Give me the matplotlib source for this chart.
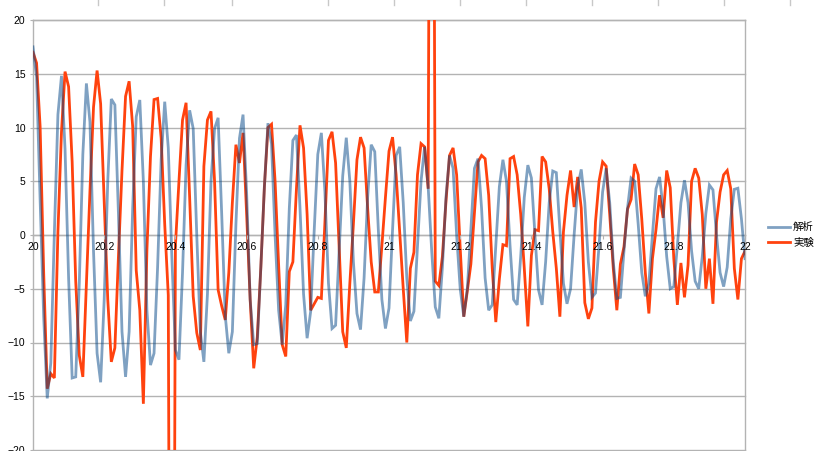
import numpy as np
import matplotlib
matplotlib.use("Agg")
import matplotlib.pyplot as plt
from matplotlib.lines import Line2D
from matplotlib.ticker import FuncFormatter

plt.rcParams['font.family'] = ['Liberation Sans', 'Noto Sans CJK JP', 'DejaVu Sans']

series_names = ["解析", "実験"]

analysis = [
    17.5, 14.7, 3.3, -7.6, -15.2, -11.9, 0.2, 11.2, 14.8, 8.0,
    -4.0, -13.3, -13.2, -4.5, 7.5, 14.1, 10.5, -1.5, -11.0, -13.7,
    -6.0, 5.0, 12.65, 12.1, 2.0, -9.0, -13.2, -9.0, 2.5, 11.0,
    12.56, 5.0, -7.0, -12.1, -11.0, -3.0, 7.0, 12.4, 8.1, -2.0,
    -10.7, -11.6, -3.5, 6.5, 11.6, 9.9, 0.0, -9.0, -11.8, -5.5,
    5.0, 9.9, 10.9, 2.0, -7.5, -11.0, -9.0, 1.0, 9.0, 11.2,
    4.0, -6.0, -10.2, -10.1, -3.0, 4.5, 10.4, 8.5, 0.0, -7.0,
    -10.2, -6.5, 2.5, 8.8, 9.3, 2.5, -5.5, -9.6, -7.1, 0.5,
    7.5, 9.5, 4.0, -4.5, -8.7, -8.4, -1.5, 5.5, 9.05, 5.0,
    -2.5, -7.3, -8.8, -4.0, 3.5, 8.4, 7.75, 0.5, -6.0, -8.7,
    -6.8, 0.5, 7.4, 8.2, 3.0, -4.0, -8.0, -7.1, -1.0, 5.0,
    8.2, 4.5, -1.5, -6.7, -7.75, -3.0, 3.5, 7.4, 6.2, 0.0,
    -5.0, -7.6, -5.0, 0.5, 6.2, 7.1, 2.5, -4.0, -7.0, -6.5,
    -1.0, 4.5, 7.0, 5.0, -1.0, -6.0, -6.5, -2.0, 3.5, 6.5,
    5.3, 0.0, -5.1, -6.5, -2.5, 3.0, 5.95, 5.8, 0.5, -4.5,
    -6.4, -5.0, 0.0, 4.5, 6.1, 3.0, -2.5, -5.8, -5.4, -1.0,
    4.0, 6.2, 3.0, -2.5, -5.9, -5.8, -1.5, 2.5, 5.3, 5.0,
    1.0, -3.5, -5.7, -4.5, 0.0, 4.3, 5.4, 2.5, -2.0, -5.0,
    -4.8, -1.0, 3.0, 5.1, 3.0, -1.5, -4.3, -5.0, -2.0, 2.0,
    4.65, 4.2, 0.0, -3.5, -4.8, -3.0, 1.5, 4.25, 4.35, 1.5,
    -2.2,
]

experiment = [
    17.0, 16.0, 10.1, -3.5, -14.3, -12.9, -13.3, 0.3, 9.6, 15.2,
    13.8, 6.8, -4.3, -11.2, -13.2, -4.6, 4.1, 11.9, 15.3, 12.2,
    3.0, -6.0, -11.8, -10.5, -2.0, 6.0, 12.9, 14.3, 10.1, -3.3,
    -7.0, -15.7, -1.4, 7.3, 12.6, 12.7, 9.0, 1.0, -5.6, -100.0,
    -1.0, 5.0, 10.7, 12.3, 3.5, -5.7, -9.1, -10.7, 6.4, 10.7,
    11.5, 5.0, -5.1, -6.6, -7.9, -3.5, 3.0, 8.4, 6.7, 9.5,
    2.0, -6.0, -12.4, -9.5, -3.0, 4.5, 10.0, 10.3, 5.0, -2.8,
    -10.2, -11.3, -3.4, -2.5, 4.3, 10.2, 8.1, 1.9, -7.0, -6.4,
    -5.8, -5.9, 1.2, 8.8, 9.6, 6.7, -1.2, -9.0, -10.5, -4.5,
    1.0, 7.0, 9.1, 8.1, 2.5, -2.5, -5.3, -5.3, -1.0, 3.5,
    7.8, 9.1, 5.6, 0.3, -5.0, -10.0, -3.1, -1.6, 5.6, 8.5,
    8.2, 4.3, 100.0, -4.3, -4.7, -2.0, 3.1, 7.4, 8.1, 5.6,
    -1.2, -7.6, -5.2, -2.7, 2.0, 6.8, 7.4, 7.1, 3.7, -3.1,
    -8.1, -4.1, -0.9, -1.0, 7.1, 7.3, 5.6, 1.9, -3.1, -8.5,
    -1.9, 0.5, 0.4, 7.3, 6.8, 4.3, 0.3, -3.1, -7.6, 0.3,
    3.7, 6.0, 2.6, 5.4, 2.5, -6.3, -7.8, -6.8, 1.2, 5.0,
    6.8, 6.4, 1.9, -3.1, -7.0, -2.7, -1.1, 2.4, 3.3, 6.6,
    5.6, 1.5, -3.5, -7.3, -2.2, 0.5, 3.7, 1.6, 6.0, 4.4,
    -2.2, -6.5, -2.6, -5.8, -2.8, 5.0, 6.2, 5.3, 1.9, -5.0,
    -2.2, -6.4, 1.2, 4.0, 5.6, 6.0, 4.3, -3.1, -6.0, -2.2,
    -1.5,
]

time = np.linspace(20.0, 22.0, len(analysis))

x_ticks = [20.0, 20.2, 20.4, 20.6, 20.8, 21.0, 21.2, 21.4, 21.6, 21.8, 22.0]
y_ticks = [-20, -15, -10, -5, 0, 5, 10, 15, 20]

W, H = 820, 451
fig = plt.figure(figsize=(W / 100, H / 100), dpi=100)
ax = fig.add_axes([33 / W, 1 - 450 / H, 712 / W, 430 / H])

grid_col = '#b3b3b3'
ax.plot(time, experiment, color='#ff420e', lw=2.0, zorder=2.2,
        solid_joinstyle='miter', label=series_names[1])
ax.plot(time, analysis, color='#004586', alpha=0.5, lw=2.0, zorder=2.3,
        solid_joinstyle='miter', label=series_names[0])

ax.set_xlim(20, 22)
ax.set_ylim(-20, 20)
ax.set_xticks(x_ticks)
ax.set_yticks(y_ticks)
ax.xaxis.set_major_formatter(FuncFormatter(lambda v, p: '%g' % round(v, 2)))

for yv in y_ticks:
    ax.axhline(yv, color=grid_col, lw=1.0, zorder=1, clip_on=False)

for s in ['left', 'right', 'top']:
    ax.spines[s].set_color(grid_col)
    ax.spines[s].set_linewidth(1.0)
    ax.spines[s].set_zorder(1)
ax.spines['bottom'].set_position(('data', 0))
ax.spines['bottom'].set_color(grid_col)
ax.spines['bottom'].set_linewidth(1.0)
ax.spines['bottom'].set_zorder(1)

ax.tick_params(axis='x', direction='out', length=3, width=0.8, color=grid_col,
               pad=2, labelsize=7.5, labelcolor='black')
ax.tick_params(axis='y', direction='out', length=2.5, width=0.8, color=grid_col,
               pad=3, labelsize=7.5, labelcolor='black')
ax.xaxis.set_zorder(5)
ax.yaxis.set_zorder(5)

# spreadsheet column marks above the chart
for xp in [98, 164, 232, 328, 394, 460, 526, 592, 658, 724, 790]:
    fig.add_artist(Line2D([xp / W, xp / W], [1.0, 1 - 5 / H], color='#c8c8c8', lw=1.0))

handles, labels = ax.get_legend_handles_labels()
leg = fig.legend(handles[::-1], labels[::-1], loc='center left',
                 bbox_to_anchor=(768 / W, 1 - 235 / H), frameon=False,
                 fontsize=7.5, handlelength=2.1, handletextpad=0.3,
                 labelspacing=0.55, borderpad=0, borderaxespad=0)

fig.savefig('out.png', dpi=100)
